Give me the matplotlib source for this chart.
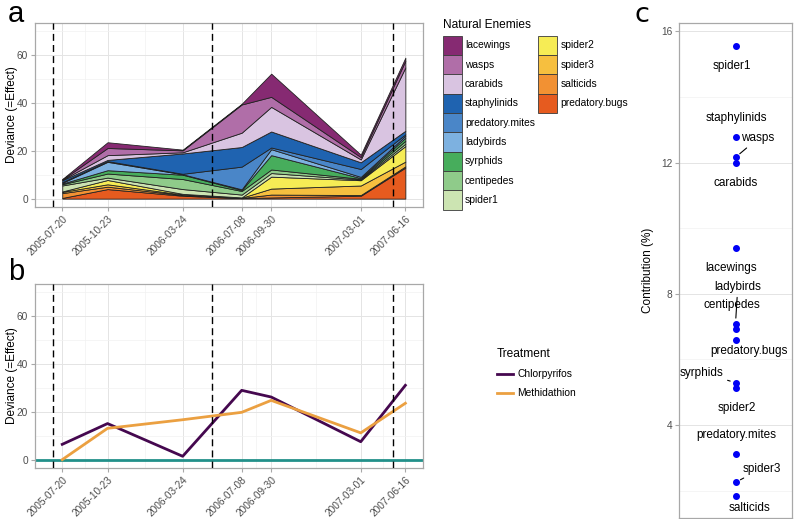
import matplotlib
matplotlib.use('Agg')
import matplotlib.pyplot as plt
import numpy as np
from matplotlib.patches import Rectangle

plt.rcParams['font.family'] = ['Liberation Sans', 'DejaVu Sans']

# sampling dates (x positions read off the axis, not proportional to calendar time)
sample_dates = ['2005-07-20', '2005-10-23', '2006-03-24', '2006-07-08',
                '2006-09-30', '2007-03-01', '2007-06-16']
sample_pos = [0.0, 13.2, 35.1, 52.3, 60.9, 87.0, 100.0]
application_pos = [-2.8, 43.7, 96.4]

# deviance per natural enemy group (panel a), stacked bottom -> top
predatory_bugs = [0.3, 4.0, 1.2, 0.2, 0.5, 1.2, 13.0]
salticids = [2.0, 1.0, 0.3, 0.1, 1.2, 0.3, 0.5]
spider3 = [0.5, 1.0, 0.2, 0.1, 2.5, 4.0, 2.0]
spider2 = [0.2, 1.8, 0.3, 0.1, 5.0, 2.2, 6.5]
spider1 = [2.5, 1.0, 2.0, 1.2, 1.5, 0.3, 1.0]
centipedes = [0.5, 1.7, 4.2, 1.5, 1.5, 0.3, 1.2]
syrphids = [0.3, 1.4, 1.8, 0.4, 6.0, 0.3, 1.3]
ladybirds = [0.3, 3.5, 0.2, 0.3, 2.5, 0.5, 0.8]
predatory_mites = [0.3, 0.3, 0.2, 9.5, 0.7, 3.3, 0.6]
staphylinids = [0.8, 0.5, 8.5, 8.2, 6.7, 2.8, 1.5]
carabids = [0.2, 2.0, 0.5, 6.0, 10.3, 1.2, 26.5]
wasps = [0.1, 3.0, 0.8, 11.8, 4.2, 1.0, 2.8]
lacewings = [0.2, 2.4, 0.3, 0.3, 9.7, 1.0, 1.3]

group_names = ['lacewings', 'wasps', 'carabids', 'staphylinids', 'predatory.mites',
               'ladybirds', 'syrphids', 'centipedes', 'spider1', 'spider2',
               'spider3', 'salticids', 'predatory.bugs']
group_colors = ['#862A72', '#B06EA8', '#D9C4E1', '#1F63B0', '#4A86C8',
                '#7DB1E0', '#47AD5C', '#8FCB8A', '#CCE4B2', '#F6EC55',
                '#F6BF3F', '#F29133', '#E65B1F']
group_values = [lacewings, wasps, carabids, staphylinids, predatory_mites,
                ladybirds, syrphids, centipedes, spider1, spider2,
                spider3, salticids, predatory_bugs]

# panel b: deviance per treatment
chlorpyrifos = [6.4, 15.1, 1.4, 29.0, 26.2, 7.5, 31.1]
methidathion = [0.0, 13.1, 16.7, 19.8, 24.8, 11.2, 23.6]
treat_names = ['Chlorpyrifos', 'Methidathion']
treat_colors = ['#45084F', '#EBA041']
control_color = '#22908A'

# panel c: contribution (%)
contrib_names = ['spider1', 'staphylinids', 'wasps', 'carabids', 'lacewings',
                 'ladybirds', 'centipedes', 'predatory.bugs', 'syrphids',
                 'spider2', 'predatory.mites', 'spider3', 'salticids']
contrib_values = [15.57, 12.77, 12.16, 11.99, 9.40, 7.09, 6.92, 6.59, 5.29,
                  5.13, 3.11, 2.25, 1.85]
# repelled label positions (x, y) and whether a segment is drawn
label_pos = [(-0.07, 14.93), (0.02, 13.35), (0.40, 12.74), (0.01, 11.37),
             (-0.07, 8.78), (0.04, 8.20), (-0.07, 7.67), (0.23, 6.25),
             (-0.60, 5.60), (0.02, 4.51), (0.02, 3.70), (0.46, 2.67),
             (0.24, 1.48)]
label_seg = [False, False, True, False, False, True, False, False, True,
             False, False, True, False]

W, H = 794, 519
fig = plt.figure(figsize=(W / 100, H / 100), dpi=100)


def px_axes(x0, y0, x1, y1):
    return fig.add_axes([x0 / W, 1 - y1 / H, (x1 - x0) / W, (y1 - y0) / H])


def style(ax):
    for s in ax.spines.values():
        s.set_color('#A8A8A8')
        s.set_linewidth(0.9)
    ax.tick_params(which='major', colors='#A8A8A8', labelcolor='#4D4D4D',
                   labelsize=7.3, length=3, width=0.8, pad=2)
    ax.tick_params(which='minor', length=0)
    ax.grid(which='major', color='#E4E4E4', lw=0.7)
    ax.grid(which='minor', color='#F1F1F1', lw=0.5)
    ax.set_axisbelow(True)


def time_axis(ax):
    lo = min(application_pos[0], sample_pos[0])
    hi = sample_pos[-1]
    pad = 0.05 * (hi - lo)
    ax.set_xlim(lo - pad, hi + pad)
    ax.set_xticks(sample_pos)
    ax.set_xticklabels(sample_dates, rotation=45, ha='right', rotation_mode='anchor')
    mids = [(a + b) / 2 for a, b in zip(sample_pos[:-1], sample_pos[1:])]
    ax.set_xticks(mids, minor=True)
    ax.set_ylim(-3.5, 73.5)
    ax.set_yticks([0, 20, 40, 60])
    ax.set_yticks([10, 30, 50, 70], minor=True)
    ax.set_ylabel('Deviance (=Effect)', fontsize=8.5)
    ax.yaxis.set_label_coords(-0.045, 0.5)
    for xv in application_pos:
        ax.axvline(xv, color='black', ls=(0, (5, 3)), lw=1.0, zorder=4)


# ---- panel a
axa = px_axes(35, 23, 423, 207)
style(axa)
axa.stackplot(sample_pos, group_values[::-1], colors=group_colors[::-1],
              edgecolor='#222222', linewidth=0.6, zorder=2)
time_axis(axa)

# ---- panel b
axb = px_axes(35, 284, 423, 468)
style(axb)
axb.axhline(0, color=control_color, lw=2.0, zorder=2)
axb.plot(sample_pos, chlorpyrifos, color=treat_colors[0], lw=2.0, zorder=3)
axb.plot(sample_pos, methidathion, color=treat_colors[1], lw=2.0, zorder=3)
time_axis(axb)

# ---- panel c
axc = px_axes(679, 23, 792, 518)
style(axc)
axc.scatter(np.zeros(len(contrib_values)), contrib_values, s=16,
            color='#0000F5', zorder=3)
for name, val, (lx, ly), seg in zip(contrib_names, contrib_values, label_pos, label_seg):
    if seg:
        axc.annotate(name, xy=(0, val), xytext=(lx, ly), ha='center', va='center',
                     fontsize=8.5, arrowprops=dict(arrowstyle='-', color='black',
                                                   lw=0.8, shrinkA=1, shrinkB=4))
    else:
        axc.text(lx, ly, name, ha='center', va='center', fontsize=8.5)
axc.set_xlim(-1, 1)
axc.set_xticks([])
lo, hi = min(contrib_values), max(contrib_values)
axc.set_ylim(lo - 0.05 * (hi - lo), hi + 0.05 * (hi - lo))
axc.set_yticks([4, 8, 12, 16])
axc.set_yticks([2, 6, 10, 14], minor=True)
axc.grid(which='both', axis='x', visible=False)
axc.set_ylabel('Contribution (%)', fontsize=8.5)
axc.yaxis.set_label_coords(-0.22, 0.5)

# ---- legends
lg = px_axes(430, 10, 640, 215)
lg.set_xlim(430, 640)
lg.set_ylim(215, 10)
lg.axis('off')
lg.text(443, 25, 'Natural Enemies', fontsize=8.6, va='center')
for i, (name, col) in enumerate(zip(group_names, group_colors)):
    c, r = divmod(i, 9)
    kx = 443 + c * 95.3
    ky = 35.5 + r * 19.35
    lg.add_patch(Rectangle((kx, ky), 19, 19.35, fc=col, ec='#3A3A3A', lw=0.6))
    lg.text(kx + 22, ky + 9.7, name, fontsize=7.4, va='center')

lb = px_axes(430, 335, 640, 410)
lb.set_xlim(430, 640)
lb.set_ylim(410, 335)
lb.axis('off')
lb.text(497, 354, 'Treatment', fontsize=8.6, va='center')
for i, (name, col) in enumerate(zip(treat_names, treat_colors)):
    y = 374.3 + i * 18.8
    lb.plot([497, 513], [y, y], color=col, lw=2.0)
    lb.text(517, y, name, fontsize=7.4, va='center')

# panel letters
fig.text(8 / W, 1 - 22 / H, 'a', fontsize=21, va='baseline')
fig.text(8 / W, 1 - 280 / H, 'b', fontsize=21, va='baseline')
fig.text(634 / W, 1 - 22 / H, 'c', fontsize=19.5, va='baseline', family='DejaVu Sans')

fig.savefig('out.png', dpi=100)
